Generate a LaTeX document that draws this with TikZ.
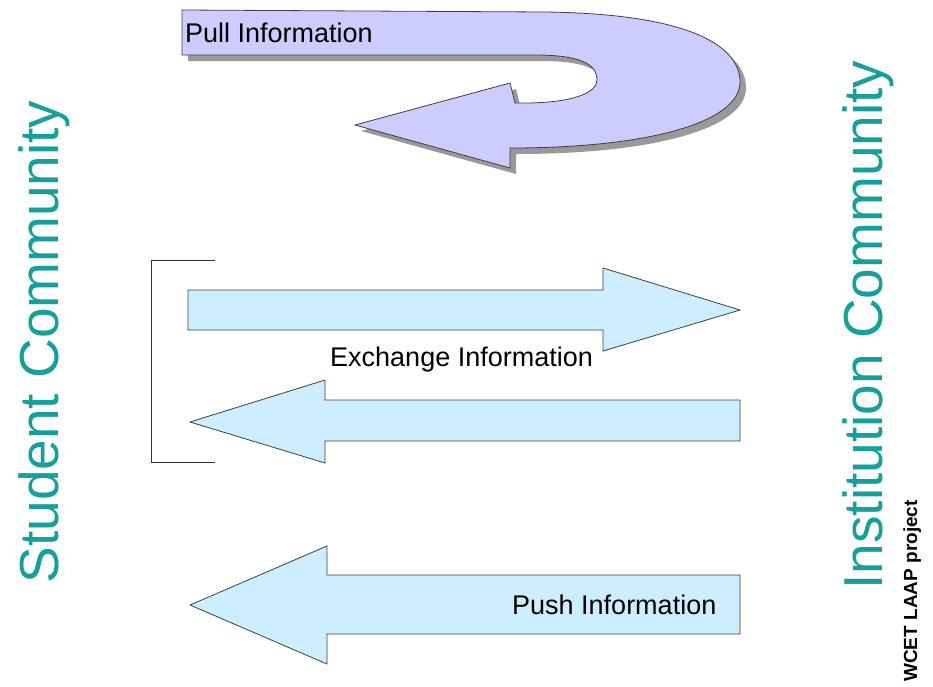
\documentclass[tikz,border=0pt]{standalone}
\usepackage{fontspec}
\setmainfont{Liberation Sans}
\usetikzlibrary{positioning}

\definecolor{pullfill}{HTML}{CCCCFF}
\definecolor{flowfill}{HTML}{CCEEFF}
\definecolor{commteal}{HTML}{17A09B}

\begin{document}
\begin{tikzpicture}[
  x=1pt, y=-1pt,
  flowarrow/.style = {draw=black!75, line width=0.8pt, line join=miter, fill=flowfill},
  pullarrow/.style = {flowarrow, fill=pullfill},
  shadowarrow/.style = {fill=black!40, draw=none},
  flowlabel/.style = {inner sep=0pt, font=\fontsize{27}{30}\selectfont},
  community/.style = {inner sep=0pt, rotate=90, text=commteal, font=\fontsize{55}{60}\selectfont}
]
  \useasboundingbox (0,0) rectangle (933,686);

  % Pull arrow (shadow, then shape)
  \foreach \dx/\sty in {6/shadowarrow, 0/pullarrow} {
    \draw[\sty, shift={(\dx,\dx)}]
      (182,10) -- (545,12)
      .. controls (700,14) and (740,50) .. (740,82)
      .. controls (740,122) and (650,148) .. (510,148)
      -- (510,168) -- (355,125) -- (510,83) -- (515,103)
      .. controls (575,104) and (597,92) .. (597,80)
      .. controls (597,64) and (580,55) .. (535,55)
      -- (182,55) -- cycle;
  }

  % Exchange arrows
  \draw[flowarrow]
    (188,290) -- (603,290) -- (603,268) -- (740,310) -- (603,351)
    -- (603,330) -- (188,330) -- cycle;
  \draw[flowarrow]
    (740,400) -- (325,400) -- (325,380) -- (190,422) -- (325,463)
    -- (325,441) -- (740,441) -- cycle;

  % Bracket
  \draw[black!80, line width=0.9pt] (215,260) -- (151,260) -- (151,462) -- (215,462);

  % Push arrow
  \draw[flowarrow]
    (740,575) -- (327,575) -- (327,546) -- (190,605) -- (327,664)
    -- (327,634) -- (740,634) -- cycle;

  % Labels
  \node[flowlabel, anchor=base west] (pull) at (185,42) {Pull Information};
  \node[flowlabel, anchor=base west] (exchange) at (330,366) {Exchange Information};
  \node[flowlabel, anchor=base west] (push) at (512,614) {Push Information};

  % Communities
  \node[community, anchor=base] (student) at (58,342) {Student Community};
  \node[community, anchor=base] (institution) at (882,325) {Institution Community};

  \node[inner sep=0pt, rotate=90, anchor=base, font=\bfseries\fontsize{19}{21}\selectfont] (source) at (917,591) {WCET LAAP project};

\end{tikzpicture}
\end{document}
